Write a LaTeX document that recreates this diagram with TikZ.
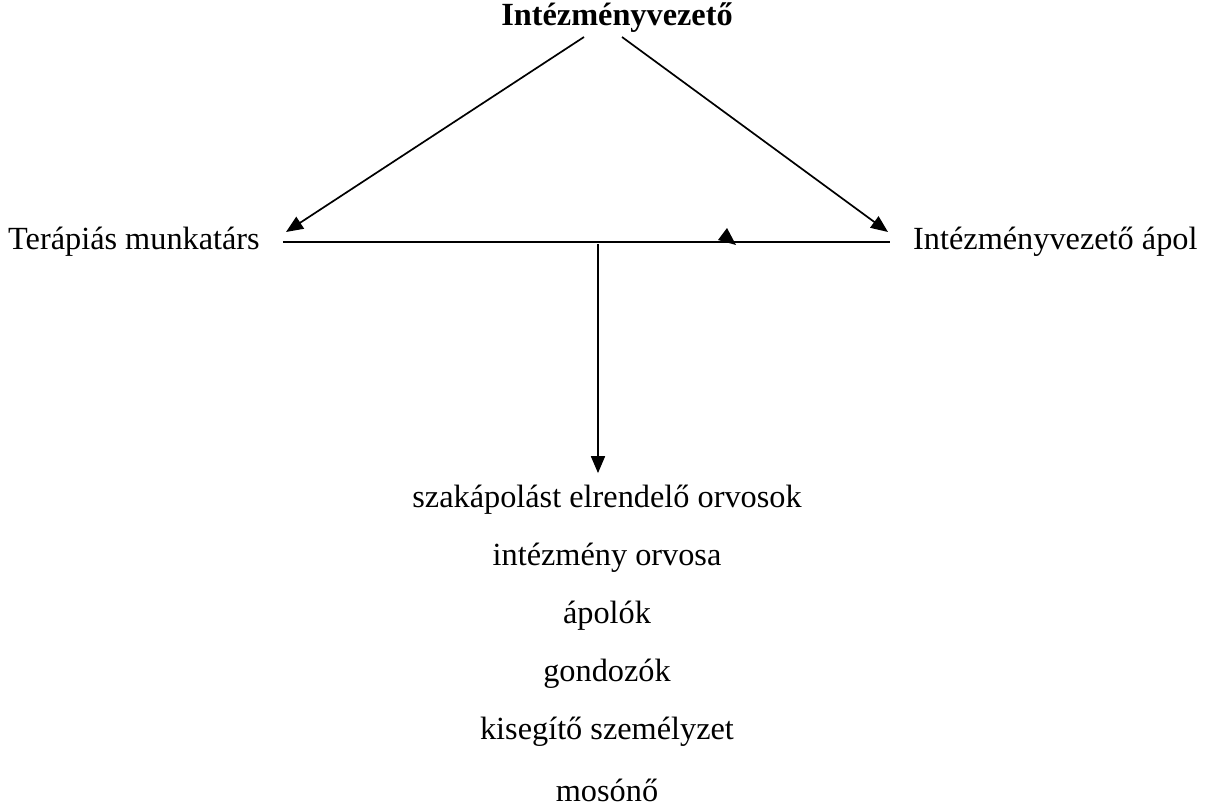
\documentclass[tikz,border=0pt]{standalone}
\usepackage{fontspec}
\setmainfont{Liberation Serif}
\usetikzlibrary{arrows.meta}
\begin{document}
\begin{tikzpicture}[x=1pt,y=-1pt,
  lbl/.style={inner sep=0pt, font=\fontsize{32.3}{38}\selectfont},
  conn/.style={line width=1.7pt},
  tip/.style={-{Triangle[length=17pt,width=14pt]}}]
\useasboundingbox (0,0) rectangle (1208,808);

% heads of the hierarchy
\node[lbl, font=\fontsize{32.3}{38}\selectfont\bfseries] (head) at (617,18) {Intézményvezető};
\node[lbl, anchor=west] (ther) at (8,242) {Terápiás munkatárs};
\node[lbl, anchor=west] (nurse) at (913,242) {Intézményvezető ápol};

% staff list
\node[lbl] (s1) at (607,500) {szakápolást elrendelő orvosok};
\node[lbl] (s2) at (607,558) {intézmény orvosa};
\node[lbl] (s3) at (607,616) {ápolók};
\node[lbl] (s4) at (607,674) {gondozók};
\node[lbl] (s5) at (607,732) {kisegítő személyzet};
\node[lbl] (s6) at (607,790) {mosónő};

% connection points
\coordinate (hl) at (584,37);
\coordinate (hr) at (622,37);
\coordinate (tl) at (286,232);
\coordinate (tr) at (888,232);
\coordinate (drop) at (598,244);

\draw[conn, tip] (hl) -- (tl);
\draw[conn, tip] (hr) -- (tr);
\draw[conn, shorten <=23pt, shorten >=23pt] (ther.east) -- (nurse.west);
\draw[conn, tip, shorten >=12pt] (drop) -- (s1.north -| drop);
% small arrowhead resting on the horizontal line
\fill (718,240) -- (727,228) -- (736,245) -- cycle;
\end{tikzpicture}
\end{document}
